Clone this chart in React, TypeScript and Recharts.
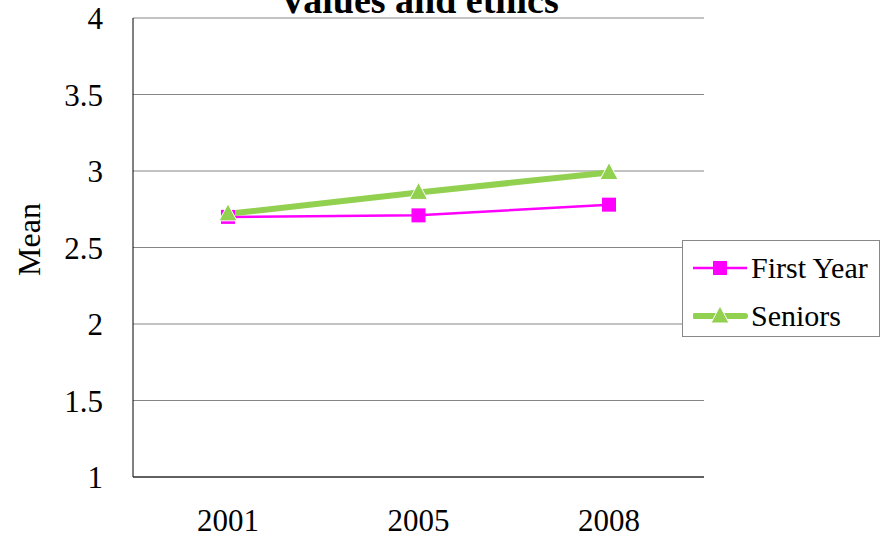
import React from 'react';
import { LineChart, Line, XAxis, YAxis, CartesianGrid, Legend } from 'recharts';

const years = ['2001', '2005', '2008'];
const firstYear = [2.70, 2.71, 2.78];
const seniors = [2.72, 2.86, 2.99];
const yTicks = [1, 1.5, 2, 2.5, 3, 3.5, 4];

const data = years.map((y, i) => ({ year: y, first: firstYear[i], seniors: seniors[i] }));

const FONT = '"Liberation Serif", "Times New Roman", serif';
const MAGENTA = '#FF00FF';
const GREEN = '#92D050';

const SquareDot = (props: any) => {
  const { cx, cy, index } = props;
  if (cx == null || cy == null) return null;
  return <rect key={`sq-${index}`} x={cx - 7} y={cy - 7} width={14} height={14} fill={MAGENTA} />;
};

const TriDot = (props: any) => {
  const { cx, cy, index } = props;
  if (cx == null || cy == null) return null;
  return (
    <polygon
      key={`tr-${index}`}
      points={`${cx},${cy - 10} ${cx - 9},${cy + 7} ${cx + 9},${cy + 7}`}
      fill={GREEN}
      stroke="#ffffff"
      strokeWidth={1}
    />
  );
};

const renderLegend = () => (
  <div
    style={{
      position: 'relative',
      width: 198,
      height: 97,
      boxSizing: 'border-box',
      border: '1px solid #888',
      background: '#fff',
      fontFamily: FONT,
      fontSize: 30,
      color: '#000',
    }}
  >
    <div style={{ position: 'absolute', left: 10, top: 11, height: 32, display: 'flex', alignItems: 'center' }}>
      <svg width={56} height={32} style={{ display: 'block' }}>
        <line x1={0} y1={16} x2={54} y2={16} stroke={MAGENTA} strokeWidth={2.5} />
        <rect x={20} y={9} width={14} height={14} fill={MAGENTA} />
      </svg>
      <span style={{ marginLeft: 2, lineHeight: '32px', whiteSpace: 'nowrap' }}>First Year</span>
    </div>
    <div style={{ position: 'absolute', left: 10, top: 59, height: 32, display: 'flex', alignItems: 'center' }}>
      <svg width={56} height={32} style={{ display: 'block' }}>
        <line x1={2} y1={16} x2={52} y2={16} stroke={GREEN} strokeWidth={6} strokeLinecap="round" />
        <polygon points="27,6 18,23 36,23" fill={GREEN} stroke="#fff" strokeWidth={1} />
      </svg>
      <span style={{ marginLeft: 2, lineHeight: '32px', whiteSpace: 'nowrap' }}>Seniors</span>
    </div>
  </div>
);

export default function App() {
  return (
    <div style={{ position: 'absolute', left: 0, top: 0, width: 886, height: 541, background: '#fff' }}>
      <LineChart
        width={886}
        height={541}
        data={data}
        margin={{ top: 18, right: 182, bottom: 4, left: 33 }}
      >
        <CartesianGrid vertical={false} stroke="#868686" strokeWidth={1} />
        <XAxis
          dataKey="year"
          height={60}
          padding={{ left: 95, right: 95 }}
          axisLine={{ stroke: '#000', strokeWidth: 1 }}
          tickLine={false}
          tickSize={0}
          tickMargin={32}
          tick={{ fill: '#000', fontSize: 31, fontFamily: FONT }}
        />
        <YAxis
          width={100}
          domain={[1, 4]}
          ticks={yTicks}
          interval={0}
          axisLine={{ stroke: '#000', strokeWidth: 1 }}
          tickLine={false}
          tickSize={0}
          tickMargin={30}
          tick={{ fill: '#000', fontSize: 31, fontFamily: FONT }}
          label={{
            content: (props: any) => {
              const vb = props.viewBox || { x: 33, y: 18, width: 100, height: 459 };
              const x = vb.x - 4;
              const y = vb.y + vb.height / 2 - 8;
              return (
                <text
                  x={x}
                  y={y}
                  transform={`rotate(-90, ${x}, ${y})`}
                  textAnchor="middle"
                  dominantBaseline="central"
                  fontFamily={FONT}
                  fontSize={32}
                  fill="#000"
                >
                  Mean
                </text>
              );
            },
          }}
        />
        <Legend
          content={renderLegend}
          layout="vertical"
          verticalAlign="middle"
          align="center"
          wrapperStyle={{ left: 682, top: 240, width: 198, height: 97 }}
        />
        <Line
          dataKey="first"
          name="First Year"
          stroke={MAGENTA}
          strokeWidth={2.5}
          dot={SquareDot}
          activeDot={false}
          isAnimationActive={false}
        />
        <Line
          dataKey="seniors"
          name="Seniors"
          stroke={GREEN}
          strokeWidth={6}
          dot={TriDot}
          activeDot={false}
          isAnimationActive={false}
        />
      </LineChart>
      <svg
        width={886}
        height={541}
        style={{ position: 'absolute', left: 0, top: 0, pointerEvents: 'none' }}
      >
        <text x={419} y={13} textAnchor="middle" fontFamily={FONT} fontWeight="bold" fontSize={38} fill="#000">
          Values and ethics
        </text>
      </svg>
    </div>
  );
}
